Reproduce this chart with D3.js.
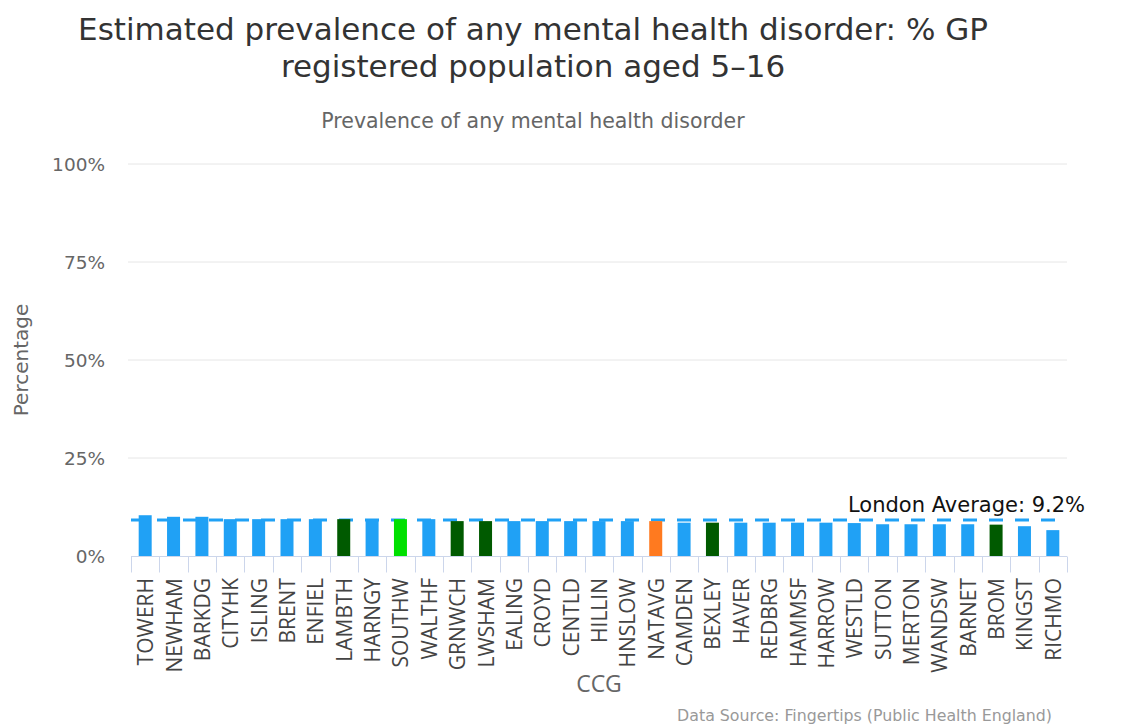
<!DOCTYPE html>
<html>
<head>
<meta charset="utf-8">
<script src="https://cdn.jsdelivr.net/npm/d3@7"></script>
<style>
  body { margin: 0; background: #fff; }
  svg { display: block; }
</style>
</head>
<body>
<svg id="chart" width="1134" height="724"></svg>
<script>
var categories, values, colourKeys, yTicks, londonAverage, palette, svg, x, y, barW, setup;

categories = ["TOWERH", "NEWHAM", "BARKDG", "CITYHK", "ISLING", "BRENT", "ENFIEL", "LAMBTH", "HARNGY", "SOUTHW",
  "WALTHF", "GRNWCH", "LWSHAM", "EALING", "CROYD", "CENTLD", "HILLIN", "HNSLOW", "NATAVG", "CAMDEN",
  "BEXLEY", "HAVER", "REDBRG", "HAMMSF", "HARROW", "WESTLD", "SUTTON", "MERTON", "WANDSW", "BARNET",
  "BROM", "KINGST", "RICHMO"];

values = [10.4, 10.0, 10.0, 9.4, 9.4, 9.4, 9.4, 9.4, 9.4, 9.4,
  9.4, 8.9, 8.9, 8.9, 8.9, 8.9, 8.9, 8.9, 8.9, 8.5,
  8.5, 8.5, 8.5, 8.5, 8.5, 8.4, 8.1, 8.1, 8.1, 8.1,
  8.0, 7.6, 6.6];

// which colour each bar gets
colourKeys = ["ccg", "ccg", "ccg", "ccg", "ccg", "ccg", "ccg", "stp", "ccg", "self",
  "ccg", "stp", "stp", "ccg", "ccg", "ccg", "ccg", "ccg", "nat", "ccg",
  "stp", "ccg", "ccg", "ccg", "ccg", "ccg", "ccg", "ccg", "ccg", "ccg",
  "stp", "ccg", "ccg"];

yTicks = [0, 25, 50, 75, 100];
londonAverage = 9.2;

palette = {
  ccg: "#20a1f5",
  stp: "#005a00",
  self: "#00e000",
  nat: "#ff7a1f"
};

svg = d3.select("#chart");

x = d3.scaleBand().domain(categories).range([131, 1067]);
y = d3.scaleLinear().domain([0, 100]).range([556, 164]);
barW = 13;

setup = function() {
  var grid, bars, xAxis, lbl;

  // titles
  svg.append("text")
    .attr("x", 533).attr("y", 40)
    .attr("text-anchor", "middle")
    .style("font-family", "DejaVu Sans").style("font-size", "31px").style("fill", "#333")
    .text("Estimated prevalence of any mental health disorder: % GP");
  svg.append("text")
    .attr("x", 533).attr("y", 77)
    .attr("text-anchor", "middle")
    .style("font-family", "DejaVu Sans").style("font-size", "31px").style("fill", "#333")
    .text("registered population aged 5\u201316");
  svg.append("text")
    .attr("x", 533).attr("y", 128)
    .attr("text-anchor", "middle")
    .style("font-family", "DejaVu Sans").style("font-size", "20.5px").style("fill", "#666")
    .text("Prevalence of any mental health disorder");

  // gridlines + y labels
  grid = svg.append("g");
  grid.selectAll("line").data(yTicks.filter(function(d) { return d > 0; })).enter().append("line")
    .attr("x1", 128).attr("x2", 1067)
    .attr("y1", function(d) { return y(d); }).attr("y2", function(d) { return y(d); })
    .attr("stroke", "#e6e6e6").attr("stroke-width", 1);
  grid.selectAll("text").data(yTicks).enter().append("text")
    .attr("x", 105).attr("y", function(d) { return y(d) + 7; })
    .attr("text-anchor", "end")
    .style("font-family", "DejaVu Sans").style("font-size", "18.5px").style("fill", "#666")
    .text(function(d) { return d + "%"; });

  svg.append("text")
    .attr("transform", "translate(28,360) rotate(-90)")
    .attr("text-anchor", "middle")
    .style("font-family", "DejaVu Sans").style("font-size", "20px").style("fill", "#666")
    .text("Percentage");

  // london average reference line, sits behind the bars
  svg.append("line")
    .attr("x1", 131).attr("x2", 1067)
    .attr("y1", y(londonAverage)).attr("y2", y(londonAverage))
    .attr("stroke", palette.ccg).attr("stroke-width", 3)
    .attr("stroke-dasharray", "14,12");

  svg.append("text")
    .attr("x", 1085).attr("y", 512)
    .attr("text-anchor", "end")
    .style("font-family", "DejaVu Sans").style("font-size", "21px").style("fill", "#111")
    .text("London Average: " + londonAverage + "%");

  // bars
  bars = svg.append("g");
  bars.selectAll("rect").data(categories).enter().append("rect")
    .attr("x", function(d) { return x(d) + (x.bandwidth() - barW) / 2; })
    .attr("width", barW)
    .attr("y", function(d, i) { return y(values[i]); })
    .attr("height", function(d, i) { return y(0) - y(values[i]); })
    .attr("fill", function(d, i) { return palette[colourKeys[i]]; });

  // x axis
  xAxis = svg.append("g").attr("transform", "translate(0," + 556.5 + ")");
  xAxis.append("line")
    .attr("x1", 131).attr("x2", 1067)
    .attr("stroke", "#ccd6eb");
  xAxis.selectAll("line.tick").data(categories.concat(["end"])).enter().append("line")
    .attr("class", "tick")
    .attr("x1", function(d, i) { return Math.round(131 + i * x.step()) + 0.5; })
    .attr("x2", function(d, i) { return Math.round(131 + i * x.step()) + 0.5; })
    .attr("y1", 0).attr("y2", 16)
    .attr("stroke", "#ccd6eb");

  lbl = svg.append("g");
  lbl.selectAll("text").data(categories).enter().append("text")
    .attr("transform", function(d) {
      return "translate(" + (x(d) + x.bandwidth() / 2 + 8) + ",578) rotate(-90)";
    })
    .attr("text-anchor", "end")
    .style("font-family", "Open Sans").style("font-size", "21px").style("fill", "#444")
    .text(function(d) { return d; });

  svg.append("text")
    .attr("x", 599).attr("y", 692)
    .attr("text-anchor", "middle")
    .style("font-family", "Open Sans").style("font-size", "23px").style("fill", "#666")
    .text("CCG");

  svg.append("text")
    .attr("x", 1052).attr("y", 721)
    .attr("text-anchor", "end")
    .style("font-family", "DejaVu Sans").style("font-size", "15.8px").style("fill", "#999")
    .text("Data Source: Fingertips (Public Health England)");
};

setup();
</script>
</body>
</html>
